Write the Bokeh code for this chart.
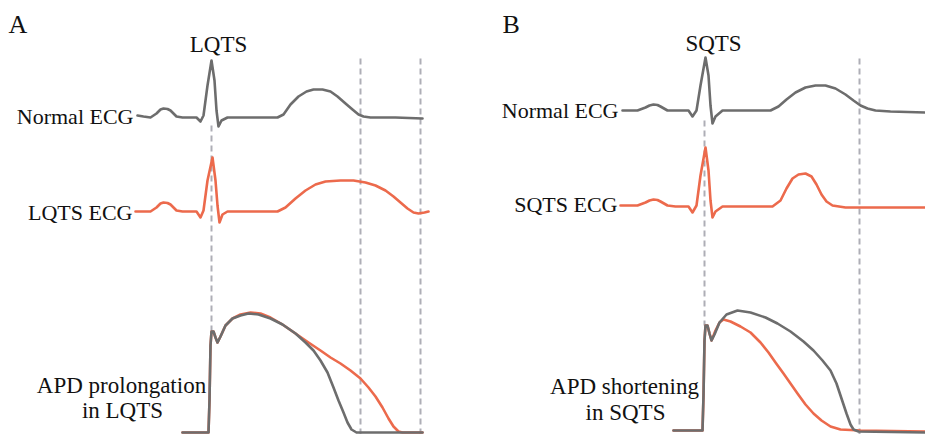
from bokeh.plotting import figure
from bokeh.models import Range1d
from bokeh.embed import file_html
from bokeh.resources import INLINE
from bokeh.core.properties import value

# ---------------- data (schematic units) ----------------
# Panel A : normal ECG (gray)
a_norm_ecg_t = [137, 143, 150, 156, 160, 163, 167, 170, 176, 182, 196, 200, 203, 207, 211, 214, 216, 218, 221, 227,
                250, 277, 283, 290, 298, 306, 313, 322, 330, 337, 345, 352, 358, 363, 370, 395, 422]
a_norm_ecg_v = [115, 116, 117, 113, 109, 108, 108.5, 110, 116, 117, 117, 121, 115, 85, 60, 80, 110, 126, 120, 117,
                117, 117, 114, 104, 96, 91, 89, 89, 91, 96, 103, 109, 114, 116, 117, 117, 118]
# Panel A : LQTS ECG (red)
a_lqts_ecg_t = [135, 143, 150, 156, 160, 163, 167, 170, 176, 182, 196, 200, 203, 207, 212, 215, 217, 219, 222, 227,
                250, 277, 285, 295, 305, 315, 325, 340, 353, 365, 375, 385, 393, 400, 407, 413, 418, 424, 428]
a_lqts_ecg_v = [211, 211, 211, 207, 203, 202, 202.5, 204, 210, 211, 211, 217, 210, 180, 157, 180, 205, 222, 214, 211,
                211, 211, 207, 198, 190, 184, 181, 180, 180, 182, 185, 190, 196, 202, 208, 212, 213, 212, 211]
# Panel A : action potentials
a_norm_ap_t = [182, 208, 209, 210, 211, 213, 215, 217, 220, 225, 232, 240, 248, 258, 270, 282, 295, 305,
               313, 320, 327, 333, 338, 343, 347, 351, 356, 422]
a_norm_ap_v = [432, 432, 400, 345, 331, 331, 337, 342, 336, 325, 318, 315, 313, 314, 318, 324, 333, 342,
               350, 360, 372, 387, 400, 412, 422, 429, 432, 432]
a_lqts_ap_t = [182, 208, 209, 210, 211, 213, 215, 217, 220, 225, 232, 240, 250, 260, 270, 282, 295, 308,
               320, 330, 340, 350, 360, 368, 375, 382, 388, 393, 398, 402, 422]
a_lqts_ap_v = [432, 432, 400, 345, 331, 331, 337, 342, 336, 325, 318, 314, 312, 313, 317, 324, 333, 342,
               350, 357, 363, 370, 378, 387, 396, 407, 418, 426, 431, 432, 432]

# Panel B : normal ECG (gray)
b_norm_ecg_t = [622, 630, 637, 645, 649, 653, 657, 660, 667, 675, 688, 692, 696, 700, 705, 708, 710, 712, 715, 722,
                745, 770, 778, 786, 795, 805, 815, 825, 835, 845, 853, 860, 867, 875, 890, 925]
b_norm_ecg_v = [110, 110, 110, 107, 105, 104, 104.5, 106, 110, 110, 110, 116, 110, 85, 57, 75, 105, 123, 116, 110,
                110, 110, 106, 99, 92, 87, 85, 85, 88, 94, 100, 105, 108, 110, 111, 112]
# Panel B : SQTS ECG (red)
b_sqts_ecg_t = [620, 630, 637, 645, 649, 653, 657, 660, 667, 675, 688, 692, 696, 700, 705, 708, 710, 712, 715, 722,
                745, 772, 780, 786, 792, 798, 805, 811, 816, 821, 826, 832, 845, 925]
b_sqts_ecg_v = [205, 205, 205, 202, 200, 199, 199.5, 201, 205, 206, 206, 212, 205, 175, 147, 170, 200, 217, 211, 206,
                206, 206, 200, 188, 178, 174, 173, 176, 184, 194, 201, 205, 207, 207]
# Panel B : action potentials
b_norm_ap_t = [673, 702, 703, 704, 705, 707, 709, 711, 714, 719, 726, 737, 750, 765, 777, 790, 803, 813,
               822, 830, 836, 841, 846, 850, 853, 858, 925]
b_norm_ap_v = [430, 430, 395, 340, 325, 325, 333, 340, 334, 322, 314, 310, 312, 317, 323, 331, 341, 350,
               360, 370, 383, 398, 413, 424, 429, 431, 432]
b_sqts_ap_t = [673, 702, 703, 704, 705, 707, 709, 711, 715, 719, 723, 730, 740, 750, 760, 768, 775, 783,
               790, 797, 805, 813, 821, 830, 840, 860, 925]
b_sqts_ap_v = [430, 430, 395, 340, 325, 325, 333, 340, 330, 322, 319, 321, 326, 332, 342, 352, 362, 373,
               383, 393, 404, 413, 420, 426, 429, 430, 431]

# dashed reference lines: x, top, bottom
guide_x = [211, 360, 420, 704, 859]
guide_top = [125, 58, 58, 120, 58]
guide_bottom = [330, 434, 434, 325, 434]

panel_letters = ["A", "B"]
titles = ["LQTS", "SQTS"]
left_labels = ["Normal ECG", "LQTS ECG", "Normal ECG", "SQTS ECG"]
ap_labels = ["APD prolongation", "in LQTS", "APD shortening", "in SQTS"]

# ---------------- styling ----------------
GRAY = "#6d6d6d"
RED = "#ec6a4c"
DASH = "#aeaeb6"
FONT = value("Liberation Serif")

p = figure(width=925, height=434, output_backend="svg", toolbar_location=None,
           x_range=Range1d(0, 925), y_range=Range1d(434, 0), min_border=0)
p.axis.visible = False
p.grid.visible = False
p.outline_line_color = None
p.background_fill_color = "white"

p.segment(x0=guide_x, y0=guide_top, x1=guide_x, y1=guide_bottom,
          line_color=DASH, line_width=2, line_dash="6 4")

for t, v, c in [(a_norm_ecg_t, a_norm_ecg_v, GRAY), (a_lqts_ecg_t, a_lqts_ecg_v, RED),
                (a_lqts_ap_t, a_lqts_ap_v, RED), (a_norm_ap_t, a_norm_ap_v, GRAY),
                (b_norm_ecg_t, b_norm_ecg_v, GRAY), (b_sqts_ecg_t, b_sqts_ecg_v, RED),
                (b_sqts_ap_t, b_sqts_ap_v, RED), (b_norm_ap_t, b_norm_ap_v, GRAY)]:
    p.line(t, v, line_color=c, line_width=2.6, line_join="round", line_cap="round")

p.text(x=[8, 502], y=[24, 24], text=panel_letters, text_font=FONT, text_font_size="26px",
       text_align="left", text_baseline="middle", text_color="#111111")
p.text(x=[218, 713], y=[44, 43], text=titles, text_font=FONT, text_font_size="23px",
       text_align="center", text_baseline="middle", text_color="#111111")
p.text(x=[133, 132, 618, 617], y=[116, 212, 110, 204], text=left_labels, text_font=FONT,
       text_font_size="22px", text_align="right", text_baseline="middle", text_color="#111111")
p.text(x=[121, 122, 624, 625], y=[385, 410, 386, 412], text=ap_labels, text_font=FONT,
       text_font_size="23px", text_align="center", text_baseline="middle", text_color="#111111")

open("out.html", "w").write(file_html(p, INLINE))
